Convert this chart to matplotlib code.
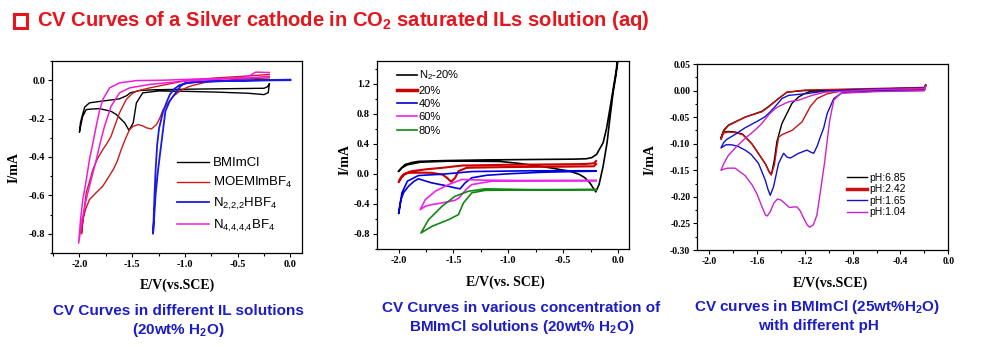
import matplotlib
matplotlib.use('Agg')
import matplotlib.pyplot as plt
from matplotlib.patches import Rectangle
from matplotlib.ticker import MultipleLocator, FormatStrFormatter

plt.rcParams['axes.unicode_minus'] = False
plt.rcParams['mathtext.default'] = 'regular'

# ---------------- Panel 1 data: different IL solutions ----------------
il_labels = ['BMImCl', 'MOEMImBF$_4$', 'N$_{2{,}2{,}2}$HBF$_4$', 'N$_{4{,}4{,}4{,}4}$BF$_4$']

bmimcl_x = [-0.20, -0.21, -0.25, -0.40, -0.70, -1.00, -1.25, -1.40, -1.46, -1.49, -1.53, -1.571,
            -1.65, -1.70, -1.81, -1.88, -1.936, -1.97, -2.00, -1.99, -1.97, -1.95, -1.905, -1.80,
            -1.70, -1.62, -1.55, -1.52, -1.43, -1.30, -1.00, -0.70, -0.40, -0.25, -0.22, -0.20]
bmimcl_y = [-0.02, -0.065, -0.075, -0.068, -0.062, -0.058, -0.056, -0.066, -0.118, -0.222, -0.261, -0.222,
            -0.179, -0.162, -0.148, -0.150, -0.153, -0.19, -0.271, -0.22, -0.179, -0.14, -0.118, -0.110,
            -0.103, -0.097, -0.08, -0.066, -0.054, -0.050, -0.047, -0.045, -0.043, -0.042, -0.035, -0.02]

moem_x = [-0.20, -0.50, -0.80, -0.95, -1.03, -1.11, -1.16, -1.206, -1.24, -1.27, -1.317, -1.365, -1.40,
          -1.445, -1.49, -1.524, -1.56, -1.603, -1.64, -1.68, -1.73, -1.78, -1.84, -1.905, -1.94, -1.968,
          -1.98, -1.96, -1.936, -1.90, -1.873, -1.83, -1.778, -1.74, -1.70, -1.66, -1.62, -1.556, -1.50,
          -1.46, -1.333, -1.20, -1.016, -0.70, -0.40, -0.20]
moem_y = [0.012, 0.005, -0.01, -0.031, -0.05, -0.083, -0.12, -0.153, -0.20, -0.231, -0.254, -0.248, -0.238,
          -0.231, -0.24, -0.257, -0.30, -0.36, -0.42, -0.466, -0.51, -0.553, -0.585, -0.622, -0.67, -0.727,
          -0.80, -0.70, -0.587, -0.52, -0.466, -0.41, -0.361, -0.33, -0.292, -0.23, -0.17, -0.10, -0.07,
          -0.057, -0.04, -0.025, -0.005, 0.012, 0.022, 0.03]

n222_x = [0.0, -0.2, -0.6, -0.95, -1.05, -1.10, -1.143, -1.17, -1.206, -1.245, -1.263, -1.278, -1.288,
          -1.295, -1.302, -1.292, -1.278, -1.255, -1.225, -1.185, -1.145, -1.10, -1.04, -1.0, -0.8, -0.3, 0.0]
n222_y = [0.0, -0.001, -0.004, -0.012, -0.025, -0.045, -0.075, -0.11, -0.162, -0.25, -0.336, -0.47, -0.597,
          -0.70, -0.80, -0.72, -0.597, -0.47, -0.336, -0.162, -0.11, -0.075, -0.03, -0.015, -0.005, 0.0, 0.003]

n4444_x = [-0.20, -0.40, -0.70, -1.016, -1.333, -1.524, -1.62, -1.70, -1.762, -1.80, -1.84, -1.89, -1.936,
           -1.975, -2.007, -1.99, -1.968, -1.935, -1.905, -1.87, -1.841, -1.81, -1.778, -1.714, -1.62,
           -1.46, -1.20, -0.80, -0.60, -0.45, -0.38, -0.33, -0.20]
n4444_y = [0.02, 0.012, 0.005, -0.005, -0.022, -0.04, -0.066, -0.136, -0.24, -0.32, -0.414, -0.52, -0.622,
           -0.73, -0.848, -0.73, -0.622, -0.52, -0.414, -0.32, -0.24, -0.16, -0.10, -0.04, -0.014,
           -0.002, 0.0, 0.008, 0.01, 0.015, 0.025, 0.042, 0.04]

# ---------------- Panel 2 data: BMImCl concentration ----------------
conc_labels = ['N$_2$-20%', '20%', '40%', '60%', '80%']

n2_x = [-2.0, -1.97, -1.94, -1.88, -1.82, -1.6, -1.2, -0.8, -0.4, -0.29, -0.24, -0.196, -0.136, -0.105,
        -0.075, -0.045, -0.015, -0.005, 0.003, -0.02, -0.045, -0.075, -0.10, -0.136, -0.173, -0.203,
        -0.227, -0.257, -0.302, -0.35, -0.44, -0.53, -0.62, -0.71, -0.894, -1.075, -1.5, -1.8, -1.92,
        -1.97, -2.0]
n2_y = [0.035, 0.085, 0.124, 0.15, 0.165, 0.175, 0.185, 0.19, 0.195, 0.2, 0.215, 0.257, 0.413, 0.6,
        0.857, 1.12, 1.39, 1.55, 1.55, 1.3, 1.08, 0.724, 0.413, 0.1, -0.143, -0.24,
        -0.187, -0.12, -0.053, -0.01, 0.035, 0.057, 0.08, 0.10, 0.137, 0.164, 0.17, 0.155, 0.12,
        0.08, 0.035]

c20_x = [-0.20, -0.22, -0.30, -0.60, -1.00, -1.42, -1.60, -1.75, -1.88, -1.93, -1.955, -1.98, -2.0,
         -1.98, -1.95, -1.91, -1.80, -1.70, -1.60, -1.56, -1.52, -1.485, -1.455, -1.38, -1.0, -0.5,
         -0.22, -0.20]
c20_y = [0.17, 0.14, 0.13, 0.125, 0.12, 0.11, 0.08, 0.06, 0.035, 0.01, -0.01, -0.06, -0.11,
         -0.05, -0.01, 0.013, 0.015, 0.013, -0.01, -0.053, -0.107, -0.053, 0.035, 0.08, 0.09, 0.095,
         0.10, 0.13]

c40_x = [-0.20, -0.80, -1.33, -1.60, -1.82, -1.92, -1.97, -2.0, -1.98, -1.955, -1.91, -1.86, -1.82,
         -1.70, -1.575, -1.485, -1.44, -1.394, -1.333, -1.2, -1.0, -0.7, -0.4, -0.2]
c40_y = [0.04, 0.04, 0.03, -0.005, -0.023, -0.098, -0.253, -0.53, -0.35, -0.25, -0.165, -0.10, -0.067,
         -0.12, -0.156, -0.187, -0.2, -0.12, -0.053, -0.02, 0.0, 0.02, 0.03, 0.035]

c60_x = [-0.20, -0.80, -1.20, -1.424, -1.545, -1.666, -1.757, -1.803, -1.757, -1.70, -1.605, -1.485,
         -1.45, -1.424, -1.38, -1.333, -1.15, -0.80, -0.20]
c60_y = [-0.09, -0.09, -0.085, -0.076, -0.143, -0.232, -0.343, -0.476, -0.432, -0.41, -0.387, -0.352,
         -0.32, -0.276, -0.2, -0.143, -0.098, -0.092, -0.09]

c80_x = [-0.20, -0.80, -1.21, -1.364, -1.485, -1.605, -1.727, -1.797, -1.696, -1.545, -1.455, -1.409,
         -1.333, -1.21, -0.80, -0.20]
c80_y = [-0.21, -0.21, -0.20, -0.232, -0.298, -0.432, -0.61, -0.787, -0.698, -0.61, -0.543, -0.387,
         -0.253, -0.22, -0.215, -0.21]

# ---------------- Panel 3 data: pH ----------------
ph_labels = ['pH:6.85', 'pH:2.42', 'pH:1.65', 'pH:1.04']

ph685_x = [-0.19, -0.20, -0.60, -1.00, -1.14, -1.196, -1.252, -1.308, -1.35, -1.392, -1.434, -1.455,
           -1.48, -1.50, -1.53, -1.56, -1.644, -1.72, -1.784, -1.84, -1.88, -1.902, -1.88, -1.84, -1.70,
           -1.56, -1.504, -1.42, -1.35, -1.20, -0.60, -0.20, -0.19]
ph685_y = [0.01, 0.002, 0.0, -0.001, -0.001, -0.005, -0.012, -0.024, -0.043, -0.062, -0.096, -0.13,
           -0.158, -0.152, -0.138, -0.128, -0.10, -0.082, -0.078, -0.077, -0.078, -0.089, -0.075, -0.065, -0.05,
           -0.039, -0.030, -0.015, -0.003, 0.0, 0.003, 0.005, 0.01]

ph242_x = [-0.19, -0.20, -0.60, -0.90, -1.013, -1.098, -1.154, -1.224, -1.308, -1.36, -1.392, -1.42,
           -1.434, -1.455, -1.482, -1.50, -1.53, -1.56, -1.644, -1.72, -1.784, -1.84, -1.88, -1.902,
           -1.88, -1.84, -1.70, -1.56, -1.504, -1.42, -1.35, -1.20, -0.60, -0.20, -0.19]
ph242_y = [0.011, 0.003, 0.001, -0.001, -0.006, -0.015, -0.030, -0.059, -0.075, -0.08, -0.083, -0.088,
           -0.107, -0.14, -0.159, -0.153, -0.138, -0.128, -0.10, -0.083, -0.079, -0.078, -0.08, -0.092,
           -0.077, -0.066, -0.05, -0.040, -0.031, -0.015, -0.003, 0.001, 0.004, 0.006, 0.011]

ph165_x = [-0.19, -0.20, -0.60, -0.888, -0.958, -1.013, -1.042, -1.07, -1.098, -1.126, -1.15, -1.182,
           -1.252, -1.322, -1.35, -1.378, -1.42, -1.462, -1.49, -1.51, -1.532, -1.588, -1.65, -1.70,
           -1.76, -1.812, -1.86, -1.902, -1.88, -1.854, -1.78, -1.70, -1.60, -1.532, -1.49, -1.448,
           -1.392, -1.336, -1.196, -1.03, -0.60, -0.20, -0.19]
ph165_y = [0.009, 0.0, -0.001, -0.004, -0.015, -0.043, -0.07, -0.087, -0.105, -0.118, -0.116, -0.112,
           -0.118, -0.127, -0.125, -0.118, -0.137, -0.181, -0.197, -0.185, -0.168, -0.137, -0.12, -0.112,
           -0.105, -0.102, -0.102, -0.108, -0.098, -0.092, -0.082, -0.070, -0.058, -0.049, -0.04, -0.030,
           -0.015, -0.009, -0.006, -0.001, 0.003, 0.005, 0.009]

ph104_x = [-0.19, -0.20, -0.60, -0.90, -0.958, -0.993, -1.035, -1.07, -1.10, -1.13, -1.16, -1.18,
           -1.21, -1.24, -1.266, -1.29, -1.33, -1.364, -1.40, -1.43, -1.46, -1.49, -1.515, -1.53,
           -1.56, -1.60, -1.64, -1.70, -1.784, -1.85, -1.88, -1.902, -1.88, -1.84, -1.77, -1.70, -1.62,
           -1.56, -1.50, -1.448, -1.42, -1.336, -1.252, -1.14, -1.03, -0.60, -0.20, -0.19]
ph104_y = [0.008, 0.0, -0.002, -0.005, -0.018, -0.057, -0.135, -0.19, -0.235, -0.253, -0.257, -0.253,
           -0.24, -0.226, -0.219, -0.219, -0.22, -0.213, -0.206, -0.204, -0.212, -0.228, -0.236, -0.234,
           -0.218, -0.195, -0.178, -0.16, -0.146, -0.146, -0.148, -0.15, -0.138, -0.122, -0.105, -0.09, -0.075,
           -0.062, -0.045, -0.034, -0.030, -0.021, -0.018, -0.009, -0.003, 0.002, 0.004, 0.008]

# ---------------- Figure ----------------
W, H = 1000, 347
fig = plt.figure(figsize=(10, 3.47), dpi=100)

def ax_px(l, t, r, b):
    return fig.add_axes([l / W, 1 - b / H, (r - l) / W, (b - t) / H])

def fx(px):
    return px / W

def fy(py):
    return 1 - py / H

SERIF = 'Liberation Serif'
SANS = 'Liberation Sans'

def style_axes(ax, xmaj, xmin, ymaj, ymin, yfmt, tsize=7.5):
    ax.xaxis.set_major_locator(MultipleLocator(xmaj))
    ax.xaxis.set_minor_locator(MultipleLocator(xmin))
    ax.yaxis.set_major_locator(MultipleLocator(ymaj))
    ax.yaxis.set_minor_locator(MultipleLocator(ymin))
    ax.xaxis.set_major_formatter(FormatStrFormatter('%.1f'))
    ax.yaxis.set_major_formatter(FormatStrFormatter(yfmt))
    ax.tick_params(which='both', direction='out', top=False, right=False, width=0.8)
    ax.tick_params(which='major', length=3, pad=2)
    ax.tick_params(which='minor', length=1.8)
    for lab in ax.get_xticklabels() + ax.get_yticklabels():
        lab.set_fontfamily(SERIF)
        lab.set_fontweight('bold')
        lab.set_fontsize(tsize)
    for s in ax.spines.values():
        s.set_linewidth(0.9)

# Panel 1
ax1 = ax_px(52, 61, 302, 253)
p1 = [(bmimcl_x, bmimcl_y, '#000000', 1.0), (moem_x, moem_y, '#cc1a1a', 1.0),
      (n222_x, n222_y, '#1a1ae6', 1.3), (n4444_x, n4444_y, '#f01cd8', 1.1)]
for (xs, ys, c, lw), lab in zip(p1, il_labels):
    ax1.plot(xs, ys, color=c, lw=lw, label=lab)
ax1.set_xlim(-2.26, 0.11)
ax1.set_ylim(-0.9, 0.1)
style_axes(ax1, 0.5, 0.25, 0.2, 0.1, '%.1f')
ax1.legend(loc='upper left', bbox_to_anchor=(0.50, 0.50), frameon=False, borderpad=0,
           borderaxespad=0, handlelength=2.4, handletextpad=0.3, labelspacing=0.45,
           prop={'family': SANS, 'size': 9.5})

# Panel 2
ax2 = ax_px(376.7, 61, 629, 249)
p2 = [(n2_x, n2_y, '#000000', 1.2), (c20_x, c20_y, '#cc0000', 1.5), (c40_x, c40_y, '#0000dd', 1.2),
      (c60_x, c60_y, '#ee22ee', 1.2), (c80_x, c80_y, '#118811', 1.2)]
for (xs, ys, c, lw), lab in zip(p2, conc_labels):
    ax2.plot(xs, ys, color=c, lw=lw, label=lab)
ax2.set_xlim(-2.2, 0.1)
ax2.set_ylim(-1.0, 1.5)
style_axes(ax2, 0.5, 0.25, 0.4, 0.2, '%.1f')
leg2 = ax2.legend(loc='upper left', bbox_to_anchor=(0.08, 0.96), frameon=False, borderpad=0,
                  borderaxespad=0, handlelength=1.8, handletextpad=0.15, labelspacing=0.3,
                  prop={'family': SANS, 'size': 8})
leg2.get_lines()[1].set_linewidth(2.5)

# Panel 3
ax3 = ax_px(697.3, 64, 948.3, 250)
p3 = [(ph685_x, ph685_y, '#000000'), (ph242_x, ph242_y, '#cc1111'),
      (ph165_x, ph165_y, '#1111cc'), (ph104_x, ph104_y, '#cc22cc')]
for (xs, ys, c), lab in zip(p3, ph_labels):
    ax3.plot(xs, ys, color=c, lw=1.0, label=lab)
ax3.set_xlim(-2.1, 0.0)
ax3.set_ylim(-0.30, 0.05)
style_axes(ax3, 0.4, 0.2, 0.05, 0.025, '%.2f', tsize=7)
leg3 = ax3.legend(loc='upper left', bbox_to_anchor=(0.595, 0.415), frameon=False, borderpad=0,
                  borderaxespad=0, handlelength=2.0, handletextpad=0.15, labelspacing=0.15,
                  prop={'family': SANS, 'size': 7.5})
leg3.get_lines()[1].set_linewidth(2.5)

# Axis labels
lab_kw = dict(fontfamily=SERIF, fontweight='bold', fontsize=10)
fig.text(fx(177), fy(285), 'E/V(vs.SCE)', ha='center', va='center', **lab_kw)
fig.text(fx(505), fy(282), 'E/V(vs. SCE)', ha='center', va='center', **lab_kw)
fig.text(fx(830), fy(283), 'E/V(vs.SCE)', ha='center', va='center', **lab_kw)
fig.text(fx(14), fy(168), 'I/mA', rotation=90, ha='center', va='center', **lab_kw)
fig.text(fx(345), fy(160), 'I/mA', rotation=90, ha='center', va='center', **lab_kw)
fig.text(fx(650), fy(160), 'I/mA', rotation=90, ha='center', va='center', **lab_kw)

# Title
fig.patches.append(Rectangle((fx(13.5), fy(27.5)), 13.5 / W, 13.5 / H, transform=fig.transFigure,
                             fill=False, edgecolor='#e8141c', linewidth=2.2))
fig.text(fx(37), fy(21), 'CV Curves of a Silver cathode in CO$_2$ saturated ILs solution (aq)',
         ha='left', va='center', color='#e8141c', fontweight='bold', fontsize=14.5, family=SANS)

# Captions
cap_kw = dict(ha='center', va='center', color='#1c1cc8', fontweight='bold', fontsize=11, family=SANS)
fig.text(fx(178), fy(311), 'CV Curves in different IL solutions', **cap_kw)
fig.text(fx(178), fy(330), '(20wt% H$_2$O)', **cap_kw)
fig.text(fx(521), fy(308), 'CV Curves in various concentration of', **cap_kw)
fig.text(fx(522), fy(327), 'BMImCl solutions (20wt% H$_2$O)', **cap_kw)
fig.text(fx(817), fy(307), 'CV curves in BMImCl (25wt%H$_2$O)', **cap_kw)
fig.text(fx(818), fy(326), 'with different pH', **cap_kw)

fig.savefig('out.png', dpi=100)
